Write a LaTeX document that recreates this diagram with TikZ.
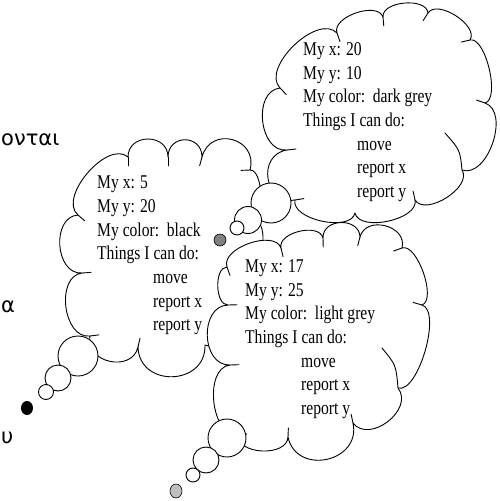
\documentclass[tikz,border=0pt]{standalone}
\usepackage{fontspec}
\setmainfont{Liberation Serif}[FakeStretch=0.8]
\newfontfamily\greekfont{DejaVu Sans}
\usepackage{xcolor}
\usepackage{tikz}
\usetikzlibrary{calc}
\definecolor{darkdot}{HTML}{808080}
\definecolor{lightdot}{HTML}{C0C0C0}
\tikzset{
  cloudline/.style={draw=black, line width=0.9pt, fill=white, line join=round},
  hookline/.style={draw=black, line width=0.9pt, line cap=round},
  bubble/.style={draw=black, line width=0.9pt, fill=white},
  dotmark/.style={draw=black, line width=0.6pt},
  info/.style={anchor=base west, inner sep=0pt, font=\fontsize{19.5}{23.5}\selectfont},
  greek/.style={anchor=base west, inner sep=0pt, font=\greekfont\fontsize{21}{25}\selectfont}
}

\begin{document}
\begin{tikzpicture}[x=1pt, y=-1pt]
  \useasboundingbox (0,0) rectangle (500,501);
  \clip (0,0) rectangle (500,501);

  % words running off the left edge
  \node[greek] (wordtop) at (1,145) {ονται};
  \node[greek] (wordmid) at (1,312) {α};
  \node[greek] (wordbot) at (1,443) {υ};

  % black cloud
  \coordinate (b1) at (128,157); \coordinate (b2) at (168,157);
  \coordinate (b3) at (202,157); \coordinate (b4) at (250,170);
  \coordinate (b5) at (252,218); \coordinate (b6) at (250,262);
  \coordinate (b7) at (205,345); \coordinate (b8) at (138,347);
  \coordinate (b9) at (90,336);  \coordinate (b10) at (82,273);
  \coordinate (b11) at (78,215);
  \path[cloudline] (b1)
    \foreach \p/\q/\h in {b1/b2/24pt, b2/b3/23pt, b3/b4/33pt, b4/b5/13pt, b5/b6/16pt,
        b6/b7/27pt, b7/b8/41pt, b8/b9/27pt, b9/b10/27pt, b10/b11/27pt, b11/b1/27pt}
    { .. controls ($(\p)!\h!90:(\q)$) and ($(\q)!\h!-90:(\p)$) .. (\q) } -- cycle;
  \foreach \p/\q in {b1/b2, b2/b3, b3/b4, b4/b5, b8/b9, b9/b10, b10/b11, b11/b1}
    \draw[hookline] (\p) -- ($(\p)!9pt!-90:(\q)$);

  \node[info] (bx) at (97,188) {My x: 5};
  \node[info] (by) at (97,212) {My y: 20};
  \node[info] (bcol) at (97,236) {My color:\ \ black};
  \node[info] (bcan) at (97,259) {Things I can do:};
  \node[info] (bmove) at (153,283) {move};
  \node[info] (brepx) at (153,307) {report x};
  \node[info] (brepy) at (153,330) {report y};

  \draw[bubble] (78,356) circle (20pt);
  \draw[bubble] (58,378) circle (13pt);
  \draw[bubble] (46,392) circle (7.5pt);
  \fill[black] (27,408) ellipse (6pt and 7pt);

  % dark grey cloud
  \coordinate (d1) at (280,88);  \coordinate (d2) at (337,33);
  \coordinate (d3) at (383,17);  \coordinate (d4) at (428,13);
  \coordinate (d5) at (470,40);  \coordinate (d6) at (485,103);
  \coordinate (d7) at (462,170); \coordinate (d8) at (415,200);
  \coordinate (d9) at (355,213); \coordinate (d10) at (295,200);
  \coordinate (d11) at (287,150);
  \path[cloudline] (d1)
    \foreach \p/\q/\h in {d1/d2/28pt, d2/d3/17pt, d3/d4/16pt, d4/d5/17pt, d5/d6/16pt,
        d6/d7/27pt, d7/d8/20pt, d8/d9/20pt, d9/d10/20pt, d10/d11/31pt, d11/d1/28pt}
    { .. controls ($(\p)!\h!90:(\q)$) and ($(\q)!\h!-90:(\p)$) .. (\q) } -- cycle;
  \foreach \p/\q in {d1/d2, d2/d3, d3/d4, d4/d5, d5/d6, d6/d7, d8/d9, d10/d11, d11/d1}
    \draw[hookline] (\p) -- ($(\p)!9pt!-90:(\q)$);
  \draw[hookline] (d7) .. controls (460,150) .. (445,133);

  \node[info] (dx) at (303,55) {My x: 20};
  \node[info] (dy) at (303,79) {My y: 10};
  \node[info] (dcol) at (303,102) {My color:\ \ dark grey};
  \node[info] (dcan) at (303,126) {Things I can do:};
  \node[info] (dmove) at (357,150) {move};
  \node[info] (drepx) at (357,173) {report x};
  \node[info] (drepy) at (357,197) {report y};

  \draw[bubble] (271,203) circle (20pt);
  \draw[bubble] (248,220) circle (13.5pt);
  \draw[bubble] (237,228) circle (7pt);
  \draw[dotmark, fill=darkdot] (220,240) circle (6pt);

  % light grey cloud
  \coordinate (l1) at (227,267);  \coordinate (l2) at (281,248);
  \coordinate (l3) at (323,238);  \coordinate (l4) at (360,237);
  \coordinate (l5) at (402,248);  \coordinate (l6) at (422,305);
  \coordinate (l7) at (398,388);  \coordinate (l8) at (353,423);
  \coordinate (l9) at (288,437);  \coordinate (l10) at (238,435);
  \coordinate (l11) at (230,365); \coordinate (l12) at (228,305);
  \path[cloudline] (l1)
    \foreach \p/\q/\h in {l1/l2/20pt, l2/l3/16pt, l3/l4/20pt, l4/l5/23pt, l5/l6/16pt,
        l6/l7/21pt, l7/l8/27pt, l8/l9/40pt, l9/l10/20pt, l10/l11/27pt, l11/l12/29pt,
        l12/l1/13pt}
    { .. controls ($(\p)!\h!90:(\q)$) and ($(\q)!\h!-90:(\p)$) .. (\q) } -- cycle;
  \foreach \p/\q in {l1/l2, l2/l3, l3/l4, l4/l5, l5/l6, l6/l7, l8/l9, l9/l10,
      l10/l11, l11/l12, l12/l1}
    \draw[hookline] (\p) -- ($(\p)!9pt!-90:(\q)$);
  \draw[hookline] (l7) .. controls (396,365) .. (382,348);

  \node[info] (lx) at (245,272) {My x: 17};
  \node[info] (ly) at (245,296) {My y: 25};
  \node[info] (lcol) at (245,319) {My color:\ \ light grey};
  \node[info] (lcan) at (245,343) {Things I can do:};
  \node[info] (lmove) at (301,367) {move};
  \node[info] (lrepx) at (301,390) {report x};
  \node[info] (lrepy) at (301,414) {report y};

  \draw[bubble] (227,438) circle (19pt);
  \draw[bubble] (206,460) circle (13pt);
  \draw[bubble] (193,475) circle (7pt);
  \draw[dotmark, fill=lightdot] (176,491) ellipse (6pt and 7pt);
\end{tikzpicture}
\end{document}
